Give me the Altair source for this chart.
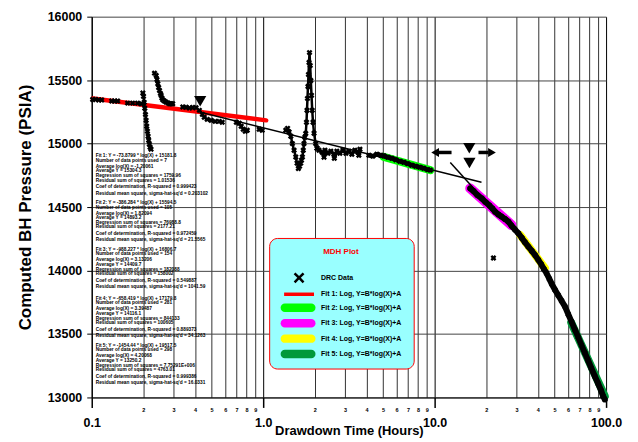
import altair as alt
import pandas as pd

FONT = "Liberation Sans"

# ---------------- DRC data (time [hours], pressure [psia]) ----------------
early_t = [0.1013, 0.1055, 0.1098, 0.1143, 0.1307, 0.1361, 0.1416, 0.1619, 0.1731, 0.1851, 0.1944]
early_p = [15348, 15348, 15344, 15344, 15335, 15335, 15335, 15319, 15319, 15319, 15314]

streak_t = [0.1987, 0.2004, 0.2023, 0.2039, 0.2058, 0.2077, 0.2093, 0.2113, 0.2132, 0.2149, 0.2169, 0.2189, 0.2217]
streak_p = [15398, 15372, 15325, 15278, 15230, 15183, 15136, 15097, 15058, 15026, 14995, 14971, 14956]

spike_t = [0.2323, 0.2377, 0.2402, 0.2429, 0.2457, 0.2484, 0.2516, 0.2540, 0.2565, 0.2594, 0.2651, 0.2710,
           0.2776, 0.2838, 0.2903, 0.2966]
spike_p = [15555, 15537, 15505, 15471, 15442, 15419, 15395, 15380, 15360, 15346, 15336, 15327,
           15321, 15314, 15314, 15314]

mid_t = [0.3395, 0.3551, 0.3711, 0.3880, 0.4059, 0.4246, 0.4418, 0.4532, 0.4715, 0.4974, 0.5247, 0.5536,
         0.5765, 0.6975, 0.7245, 0.7445, 0.7650, 0.7858, 0.8075, 0.9478, 0.9868]
mid_p = [15288, 15286, 15281, 15284, 15283, 15262, 15230, 15207, 15191, 15183, 15175, 15175,
         15168, 15168, 15160, 15136, 15113, 15097, 15105, 15113, 15105]

vspike_t = [1.355, 1.388, 1.417, 1.449, 1.480, 1.514, 1.549, 1.576, 1.604, 1.630, 1.656, 1.673, 1.693,
            1.713, 1.730, 1.750, 1.771, 1.789, 1.801, 1.813, 1.825, 1.838, 1.851, 1.863, 1.880, 1.896,
            1.914, 1.932, 1.953, 1.980, 2.024, 2.061]
vspike_p = [15105, 15120, 15091, 15058, 15000, 14948, 14895, 14846, 14804, 14822, 14846, 14869, 14895,
            14948, 15000, 15050, 15079, 15168, 15262, 15356, 15450, 15545, 15639, 15717, 15615, 15497,
            15380, 15262, 15168, 15081, 15000, 14963]

noise_t = [2.061, 2.116, 2.207, 2.264, 2.293, 2.387, 2.482, 2.586, 2.600, 2.690, 2.802, 2.917, 3.038,
           3.162, 3.290, 3.425, 3.566, 3.615, 3.667]
noise_p = [14963, 14948, 14932, 14893, 14948, 14924, 14940, 14916, 14885, 14940, 14924, 14948, 14924,
           14940, 14916, 14948, 14932, 14908, 14956]

green_t = [4.137, 4.36, 4.6, 4.85, 5.05, 5.33, 5.62, 5.93, 6.26, 6.61, 6.96, 7.35, 7.75, 8.18, 8.63, 9.11, 9.43]
green_p = [14908, 14901, 14916, 14908, 14904, 14893, 14885, 14873, 14861, 14853, 14842, 14830, 14822,
           14814, 14806, 14795, 14791]

decline_t = [16.13, 16.86, 17.78, 18.84, 19.80, 20.88, 21.74, 22.54, 23.56, 24.52, 25.70, 26.93, 28.03,
             29.38, 30.78, 32.27, 33.59, 35.20, 36.88, 38.66, 40.25, 41.89, 43.32, 44.97, 46.64, 48.35,
             50.33, 52.60, 54.98, 57.54, 60.14, 62.86, 65.77, 68.75, 71.86, 75.20, 78.60, 82.15, 85.99,
             89.84, 93.52, 96.07, 98.27]
decline_p = [14647, 14626, 14594, 14568, 14539, 14512, 14488, 14463, 14441, 14425, 14406, 14385, 14355,
             14323, 14293, 14256, 14223, 14188, 14154, 14119, 14084, 14048, 14013, 13979, 13935, 13891,
             13848, 13805, 13762, 13717, 13656, 13597, 13534, 13475, 13412, 13351, 13291, 13228, 13167,
             13110, 13055, 13010, 12984]

outlier_t = [22.03]
outlier_p = [14099]

# ---------------- fitted straight lines (semi-log), end points ----------------
fit_names = ["Fit 1", "Fit 2", "Fit 3", "Fit 4", "Fit 5"]
fit_t0 = [0.1013, 5.05, 16.13, 31.5, 62.6]
fit_t1 = [1.041, 9.44, 28.04, 44.0, 98.3]
fit_p0 = [15356, 14895, 14647, 14280, 13589]
fit_p1 = [15183, 14791, 14359, 14019, 13010]
fit_colors = ["#FF0000", "#00FF00", "#FF00FF", "#FFFF00", "#00993A"]
fit_widths = [4.5, 8, 10, 8, 8]

# thin black extrapolation lines
ext_t0 = [0.425, 12.34]
ext_t1 = [18.76, 17.08]
ext_p0 = [15249, 14852]
ext_p1 = [14696, 14641]

# markers: down triangles and arrows
tri_t = [0.4291, 15.93, 15.96]
tri_p = [15334, 14963, 14847]
arrow_t0 = [10.55, 18.02]
arrow_t1 = [12.55, 20.61]
arrow_p = [14930, 14930]
head_left_t, head_left_p = [10.07], [14930]
head_right_t, head_right_p = [21.6], [14930]

# ---------------- regression text blocks ----------------
fit_text = [
    ["Fit 1:  Y = -73.8799 * log(X) + 15181.8", "Number of data points used = 7", "Average log(X) = -1.20061",
     "Average Y = 15304.3", "Regression sum of squares = 1759.96", "Residual sum of squares = 1.01536",
     "Coef of determination, R-squared = 0.999423", "Residual mean square, sigma-hat-sq'd = 0.203102"],
    ["Fit 2:  Y = -386.284 * log(X) + 15594.5", "Number of data points used = 105", "Average log(X) = 1.82094",
     "Average Y = 14893.2", "Regression sum of squares = 76988.8", "Residual sum of squares = 2177.21",
     "Coef of determination, R-squared = 0.972459", "Residual mean square, sigma-hat-sq'd = 21.5565"],
    ["Fit 3:  Y = -988.227 * log(X) + 16806.7", "Number of data points used = 154", "Average log(X) = 3.13206",
     "Average Y = 14409.7", "Regression sum of squares = 182088", "Residual sum of squares = 158002",
     "Coef of determination, R-squared = 0.549887", "Residual mean square, sigma-hat-sq'd = 1041.59"],
    ["Fit 4:  Y = -658.419 * log(X) + 17179.8", "Number of data points used = 281", "Average log(X) = 3.39487",
     "Average Y = 14116.1", "Regression sum of squares = 844133", "Residual sum of squares = 100605",
     "Coef of determination, R-squared = 0.889373", "Residual mean square, sigma-hat-sq'd = 34.1263"],
    ["Fit 5:  Y = -1454.44 * log(X) + 19517.5", "Number of data points used = 298", "Average log(X) = 4.20068",
     "Average Y = 13250.2", "Regression sum of squares = 7.75291E+006", "Residual sum of squares = 4763.01",
     "Coef of determination, R-squared = 0.999386", "Residual mean square, sigma-hat-sq'd = 16.0331"],
]

# ---------------- legend entries ----------------
legend_names = ["DRC Data", "Fit 1:  Log, Y=B*log(X)+A", "Fit 2:  Log, Y=B*log(X)+A",
                "Fit 3:  Log, Y=B*log(X)+A", "Fit 4:  Log, Y=B*log(X)+A", "Fit 5:  Log, Y=B*log(X)+A"]
legend_colors = ["#000000"] + fit_colors

x_ticks = [0.1, 0.2, 0.3, 0.4, 0.5, 0.6, 0.7, 0.8, 0.9, 1, 2, 3, 4, 5, 6, 7, 8, 9,
           10, 20, 30, 40, 50, 60, 70, 80, 90, 100]
y_ticks = [13000, 13500, 14000, 14500, 15000, 15500, 16000]

# ---------------- build ----------------
W, H = 516, 382
Y0, Y1 = 13000, 16000

segments = [("early", early_t, early_p), ("streak", streak_t, streak_p), ("spike", spike_t, spike_p),
            ("mid", mid_t, mid_p), ("vspike", vspike_t, vspike_p), ("noise", noise_t, noise_p),
            ("green", green_t, green_p), ("decline", decline_t, decline_p), ("outlier", outlier_t, outlier_p)]
rows = []
for name, ts, ps in segments:
    for i, (t, p) in enumerate(zip(ts, ps)):
        rows.append({"seg": name, "i": i, "t": t, "p": p})
drc = pd.DataFrame(rows)
line_widths = {"streak": 2.5, "spike": 2.5, "vspike": 2.5, "noise": 3.5, "green": 4.5, "decline": 6}

xscale = alt.Scale(type="log", domain=[0.1, 100], nice=False)
yscale = alt.Scale(domain=[Y0, Y1], nice=False, zero=False)

DEC = "abs(log(datum.value)/LN10 - round(log(datum.value)/LN10)) < 0.001"
xaxis = alt.Axis(
    values=x_ticks, title="Drawdown Time (Hours)", titleFont=FONT, titleFontSize=13,
    titleFontWeight="bold", titleColor="black", titlePadding=-4,
    labelExpr=("abs(log(datum.value)/LN10 - round(log(datum.value)/LN10)) < 0.001 ? format(datum.value, '.1f') : "
               "format(round(datum.value / pow(10, floor(log(datum.value)/LN10 + 0.0001))), 'd')"),
    labelFont=FONT, labelFontWeight="bold", labelColor="black",
    labelFontSize={"condition": {"test": DEC, "value": 12.5}, "value": 5.5},
    labelPadding={"condition": {"test": DEC, "value": 9}, "value": 0},
    labelOverlap=False, labelFlush=False, labelBound=False,
    tickSize=10, tickWidth=1.5,
    tickColor={"condition": {"test": DEC, "value": "#000000"}, "value": "transparent"},
    grid=True, gridWidth=1,
    gridColor={"condition": {"test": DEC, "value": "#000000"}, "value": "#333333"},
    domain=True, domainColor="#000000", domainWidth=1,
)
yaxis = alt.Axis(
    values=y_ticks, title="Computed BH Pressure (PSIA)", titleFont=FONT, titleFontSize=17,
    titleFontWeight="bold", titleColor="black", titlePadding=13, format="d",
    labelFont=FONT, labelFontSize=12.5, labelFontWeight="bold", labelColor="black", labelPadding=5,
    labelOverlap=False, labelFlush=False, tickSize=5, tickColor="#000000", tickWidth=1,
    grid=True, gridColor="#444444", gridWidth=1, domain=True, domainColor="#000000", domainWidth=1.2,
)


def X(field):
    return alt.X(field, type="quantitative", scale=xscale, axis=xaxis)


def Y(field):
    return alt.Y(field, type="quantitative", scale=yscale, axis=yaxis)


layers = []

# fitted bands
fit_rows = []
for n, a, b, c, d in zip(fit_names, fit_t0, fit_t1, fit_p0, fit_p1):
    fit_rows.append({"fit": n, "t": a, "p": c})
    fit_rows.append({"fit": n, "t": b, "p": d})
fit_df = pd.DataFrame(fit_rows)
for n, col, wd in zip(fit_names, fit_colors, fit_widths):
    layers.append(
        alt.Chart(fit_df).transform_filter(alt.datum.fit == n)
        .mark_line(color=col, strokeWidth=wd, strokeCap="round")
        .encode(x=X("t"), y=Y("p"))
    )

# dense data drawn as thick black traces
for seg, wd in line_widths.items():
    layers.append(
        alt.Chart(drc).transform_filter(alt.datum.seg == seg)
        .mark_line(color="black", strokeWidth=wd, strokeJoin="round", strokeCap="round")
        .encode(x=X("t"), y=Y("p"), order="i:Q")
    )

# DRC data X markers
layers.append(
    alt.Chart(drc).mark_point(shape="cross", angle=45, filled=True, size=36, color="black", opacity=1)
    .encode(x=X("t"), y=Y("p"))
)

# thin extrapolation lines
ext_rows = []
for k, (a, b, c, d) in enumerate(zip(ext_t0, ext_t1, ext_p0, ext_p1)):
    ext_rows.append({"k": k, "t": a, "p": c})
    ext_rows.append({"k": k, "t": b, "p": d})
layers.append(
    alt.Chart(pd.DataFrame(ext_rows)).mark_line(color="black", strokeWidth=1.5)
    .encode(x=X("t"), y=Y("p"), detail="k:N")
)

# arrows and triangles
layers.append(
    alt.Chart(pd.DataFrame({"t": arrow_t0, "t2": arrow_t1, "p": arrow_p}))
    .mark_rule(color="black", strokeWidth=3.5)
    .encode(x=X("t"), x2="t2", y=Y("p"))
)
layers.append(
    alt.Chart(pd.DataFrame({"t": head_left_t, "p": head_left_p}))
    .mark_point(shape="triangle-left", filled=True, size=80, color="black", opacity=1)
    .encode(x=X("t"), y=Y("p"))
)
layers.append(
    alt.Chart(pd.DataFrame({"t": head_right_t, "p": head_right_p}))
    .mark_point(shape="triangle-right", filled=True, size=80, color="black", opacity=1)
    .encode(x=X("t"), y=Y("p"))
)
layers.append(
    alt.Chart(pd.DataFrame({"t": tri_t, "p": tri_p}))
    .mark_point(shape="triangle-down", filled=True, size=150, color="black", opacity=1)
    .encode(x=X("t"), y=Y("p"))
)

# regression text blocks (placed in data coordinates)
def px_to_p(y):
    return Y1 - (y - 16) * (Y1 - Y0) / H

block_top = [156, 203, 250, 299, 346]
line_off = [0, 4.5, 10.5, 15, 20, 24.5, 31, 37.5]
txt_rows = []
for b, lines in enumerate(fit_text):
    for j, s in enumerate(lines):
        txt_rows.append({"t": 0.1055, "p": px_to_p(block_top[b] + line_off[j]), "s": s})
layers.append(
    alt.Chart(pd.DataFrame(txt_rows))
    .mark_text(align="left", baseline="middle", font=FONT, fontSize=4.8, fontWeight="bold", color="black")
    .encode(x=X("t"), y=Y("p"), text="s:N")
)

# legend (symbols drawn by the legend itself)
X_PATH = ("M3,-0.354 L3.723,-1.077 L4.077,-0.723 L3.354,0 L4.077,0.723 L3.723,1.077 L3,0.354 "
          "L2.277,1.077 L1.923,0.723 L2.646,0 L1.923,-0.723 L2.277,-1.077 Z")
LINE_PATH = "M0,-0.35 L6,-0.35 L6,0.35 L0,0.35 Z"
CAPSULE = "M0.15,-0.85 L5.45,-0.85 A0.85,0.85 0 0 1 5.45,0.85 L0.15,0.85 A0.85,0.85 0 0 1 0.15,-0.85 Z"
legend_shapes = [X_PATH, LINE_PATH, CAPSULE, CAPSULE, CAPSULE, CAPSULE]

leg = alt.Legend(
    title="MDH Plot", orient="none", legendX=178, legendY=222, direction="vertical",
    titleColor="#FF0000", titleFont=FONT, titleFontSize=8, titleFontWeight="bold",
    titleAnchor="middle", titleAlign="center", titlePadding=17,
    fillColor="#99FFFF", strokeColor="#FF0000", cornerRadius=8, padding=10,
    labelFont=FONT, labelFontSize=7, labelFontWeight="bold", labelColor="black", labelOffset=32,
    labelLimit=300, symbolSize=100, symbolStrokeWidth=0, symbolOpacity=1, rowPadding=5.5,
)
leg_df = pd.DataFrame({"name": legend_names, "t": [1000] * 6, "p": [15000] * 6})
layers.append(
    alt.Chart(leg_df).mark_point(filled=True, opacity=1, clip=True)
    .encode(
        x=X("t"), y=Y("p"),
        color=alt.Color("name:N", scale=alt.Scale(domain=legend_names, range=legend_colors), legend=leg),
        shape=alt.Shape("name:N", scale=alt.Scale(domain=legend_names, range=legend_shapes), legend=leg),
    )
)

chart = (
    alt.layer(*layers)
    .properties(width=W, height=H, autosize=alt.AutoSizeParams(type="none"),
                padding={"left": 84, "top": 8, "right": 24, "bottom": 42}, background="white")
    .configure_view(stroke=None)
)

chart.save("out.html", embed_options={"renderer": "svg", "actions": False})
